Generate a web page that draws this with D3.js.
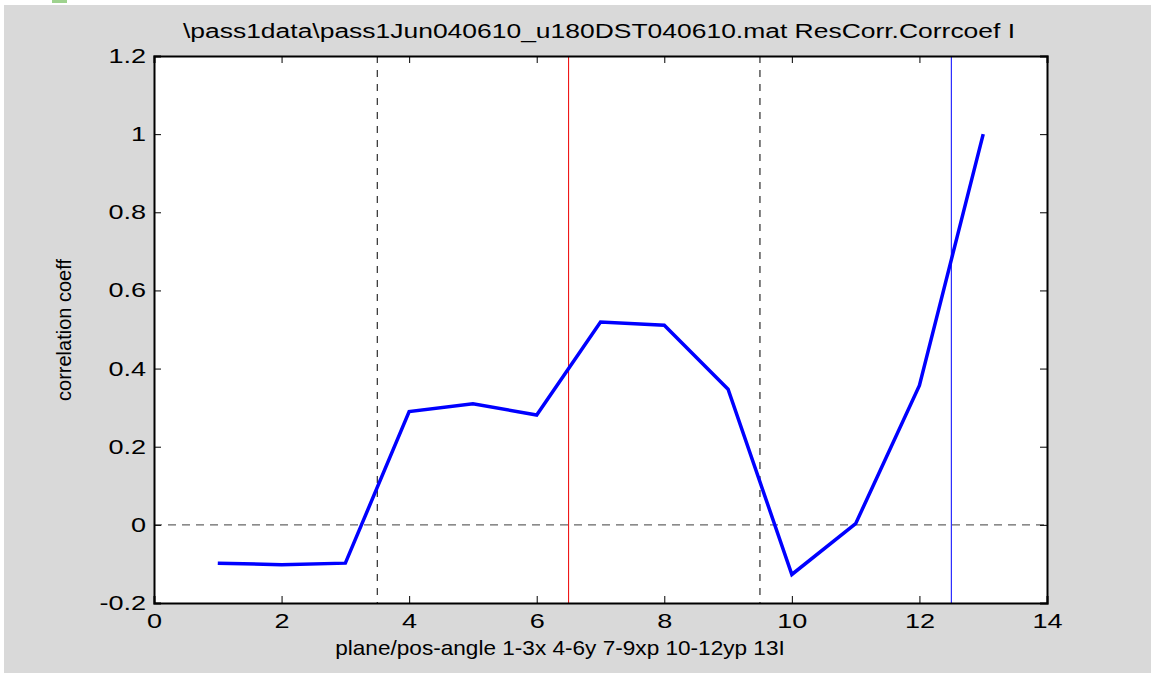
<!DOCTYPE html>
<html>
<head>
<meta charset="utf-8">
<script src="https://cdn.jsdelivr.net/npm/d3@7"></script>
<style>
body { margin:0; background:#fff; }
text { font-family: "Liberation Sans", Arial, sans-serif; }
</style>
</head>
<body>
<script>
var planes = [1,2,3,4,5,6,7,8,9,10,11,12,13];
var corrcoef = [-0.098,-0.102,-0.098,0.290,0.310,0.281,0.519,0.511,0.347,-0.127,0.003,0.357,1.0];
var xTicks = [0,2,4,6,8,10,12,14];
var yTicks = [-0.2,0,0.2,0.4,0.6,0.8,1,1.2];
var dashedDividers = [3.5,9.5];
var redDivider = 6.5;
var blueDivider = 12.5;
var title = "\\pass1data\\pass1Jun040610_u180DST040610.mat ResCorr.Corrcoef I";
var xLabel = "plane/pos-angle 1-3x 4-6y 7-9xp 10-12yp 13I";
var yLabel = "correlation coeff";

var W = 1151, H = 673;
var pL = 154, pR = 1047, pT = 56, pB = 603;
var tickStretch = 1.32;

var svg = d3.select("body").append("svg")
    .attr("width", W).attr("height", H);

svg.append("rect").attr("x",4).attr("y",5).attr("width",W-4).attr("height",H-5).attr("fill","#d9d9d9");
svg.append("rect").attr("x",52).attr("y",0).attr("width",15).attr("height",3).attr("fill","#9ed28e");

var x = d3.scaleLinear().domain([0,14]).range([pL,pR]);
var y = d3.scaleLinear().domain([-0.2,1.2]).range([pB,pT]);

svg.append("rect").attr("x",pL).attr("y",pT)
   .attr("width",pR-pL).attr("height",pB-pT).attr("fill","#fff");

// zero line
svg.append("line").attr("x1",pL).attr("x2",pR)
   .attr("y1",y(0)).attr("y2",y(0))
   .attr("stroke","#666").attr("stroke-width",1.2).attr("stroke-dasharray","8,6");

svg.selectAll("line.divd").data(dashedDividers).enter().append("line")
   .attr("class","divd")
   .attr("x1",d=>x(d)).attr("x2",d=>x(d)).attr("y1",pT).attr("y2",pB)
   .attr("stroke","#000").attr("stroke-width",1).attr("stroke-dasharray","7,7");

svg.append("line").attr("x1",x(redDivider)).attr("x2",x(redDivider))
   .attr("y1",pT).attr("y2",pB).attr("stroke","#e00").attr("stroke-width",1);
svg.append("line").attr("x1",x(blueDivider)).attr("x2",x(blueDivider))
   .attr("y1",pT).attr("y2",pB).attr("stroke","#00f").attr("stroke-width",1);

var line = d3.line().x((d,i)=>x(planes[i])).y(d=>y(d));
svg.append("path").datum(corrcoef).attr("d",line)
   .attr("fill","none").attr("stroke","#0000ff").attr("stroke-width",3.5)
   .attr("stroke-linejoin","miter");

// axes with inward ticks
var g = svg.append("g");
var gx = g.append("g").attr("transform","translate(0,"+pB+")")
  .call(d3.axisBottom(x).tickValues(xTicks).tickSize(-7).tickPadding(10).tickFormat(d3.format("d")));
g.append("g").attr("transform","translate(0,"+pT+")")
  .call(d3.axisTop(x).tickValues(xTicks).tickSize(-7).tickFormat(""));
var gy = g.append("g").attr("transform","translate("+pL+",0)")
  .call(d3.axisLeft(y).tickValues(yTicks).tickSize(-7).tickPadding(8).tickFormat(d=>String(+d.toFixed(1))));
g.append("g").attr("transform","translate("+pR+",0)")
  .call(d3.axisRight(y).tickValues(yTicks).tickSize(-7).tickFormat(""));
g.selectAll(".domain").attr("stroke","#000").attr("stroke-width",2);
g.selectAll(".tick line").attr("stroke","#000");
g.selectAll(".tick text").attr("fill","#000")
  .attr("font-family","Liberation Sans, Arial, sans-serif")
  .attr("font-size",20.5)
  .attr("transform","scale("+tickStretch+",1)");
gy.selectAll(".tick text").attr("x",-8/tickStretch);

function stretchedText(cx, cy, sx, size, txt) {
  svg.append("text").attr("transform","translate("+cx+","+cy+") scale("+sx+",1)")
     .attr("text-anchor","middle").attr("font-size",size).attr("fill","#000").text(txt);
}
stretchedText(599, 38, 1.26, 21, title);
stretchedText(560, 655, 1.13, 20, xLabel);

svg.append("text").attr("transform","translate(71,330) rotate(-90)")
   .attr("text-anchor","middle").attr("font-size",20)
   .attr("fill","#000").text(yLabel);
</script>
</body>
</html>
